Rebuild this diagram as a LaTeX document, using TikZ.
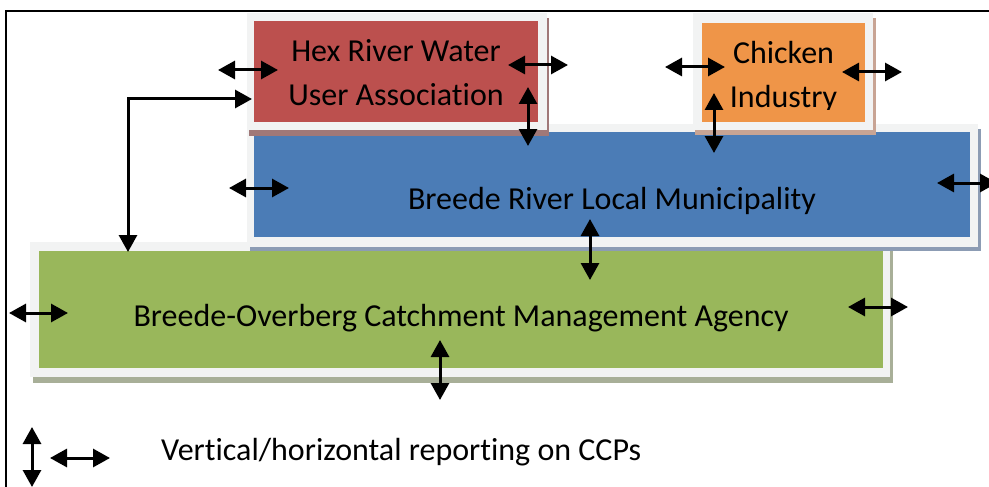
\documentclass[tikz,border=0pt]{standalone}
\usepackage{fontspec}
\setmainfont{Carlito}[Ligatures=NoCommon]
\usetikzlibrary{arrows.meta}
\definecolor{hexred}{HTML}{BC504E}
\definecolor{brblue}{HTML}{4B7CB6}
\definecolor{bogreen}{HTML}{99B75B}
\definecolor{chorange}{HTML}{EF9548}
\definecolor{framegray}{HTML}{F2F3F3}
\definecolor{redshadow}{HTML}{A07878}
\definecolor{orshadow}{HTML}{C8A494}
\definecolor{blueshadow}{HTML}{8C9CB4}
\definecolor{greenshadow}{HTML}{A8AF98}
\begin{document}
\begin{tikzpicture}[x=1pt,y=-1pt,
  dbl/.style={line width=3pt,
    {Triangle[length=17pt 0 0,width=18pt 0 0]}-{Triangle[length=17pt 0 0,width=18pt 0 0]}},
  lbl/.style={font=\fontsize{32}{44}\selectfont, align=center, text=black, inner sep=0pt},
  boxnode/.style={minimum width=#1, inner sep=0pt, anchor=north west, draw=none}]
\useasboundingbox (0,0) rectangle (989,487);
\clip (0,0) rectangle (989,487);
\fill[white] (0,0) rectangle (989,487);
\draw[line width=1.5pt] (6,490) -- (6,11) -- (992,11);

% green box
\fill[greenshadow] (33,250) rectangle (893,383);
\fill[framegray] (30,242) rectangle (890,377);
\node[boxnode=844pt, minimum height=117pt, fill=bogreen] (bocma) at (39,251) {};
\node[lbl, anchor=base] (bocmatext) at (461,326.7) {Breede-Overberg Catchment Management Agency};

% blue box
\fill[blueshadow] (250,129) rectangle (981,251);
\fill[framegray] (247,124) rectangle (978,247);
\node[boxnode=716pt, minimum height=105pt, fill=brblue] (brlm) at (254,132) {};
\node[lbl, anchor=base] (brlmtext) at (612,209) {Breede River Local Municipality};

% red box
\fill[redshadow] (249,18) rectangle (549,136);
\fill[framegray] (247,13) rectangle (547,130);
\node[boxnode=284pt, minimum height=101pt, fill=hexred] (hex) at (254,21) {};
\node[lbl, anchor=base] (hextext) at (396,106) {Hex River Water\\User Association};

% chicken box
\fill[orshadow] (695,18) rectangle (876,135);
\fill[framegray] (693,13) rectangle (873,130);
\node[boxnode=163pt, minimum height=99pt, fill=chorange] (chick) at (702,23) {};
\begin{scope}
\clip (702,23) rectangle (865,110);
\node[lbl, anchor=base] (chicktext) at (783.5,108) {Chicken\\Industry};
\end{scope}

% arrows
\draw[dbl] (218,70) -- (278,70);
\draw[dbl] (508,65) -- (568,65);
\draw[dbl] (528,87) -- (528,146);
\coordinate (elbowstart) at (128,252);
\coordinate (elbowend) at (252,99);
\draw[dbl] (elbowstart) |- (elbowend);
\draw[dbl] (229,188) -- (289,188);
\draw[dbl] (590,219) -- (590,280);
\draw[dbl] (937,183) -- (997,183);
\draw[dbl] (665,67) -- (725,67);
\draw[dbl] (842,72) -- (902,72);
\draw[dbl] (714,93) -- (714,153);
\draw[dbl] (9,313) -- (68,313);
\draw[dbl] (440,340) -- (440,400);
\draw[dbl] (848,307) -- (908,307);

% legend
\draw[dbl] (32,427) -- (32,487);
\draw[dbl] (50,458) -- (110,458);
\node[lbl, anchor=base west] (legend) at (161,460) {Vertical/horizontal reporting on CCPs};
\end{tikzpicture}
\end{document}
